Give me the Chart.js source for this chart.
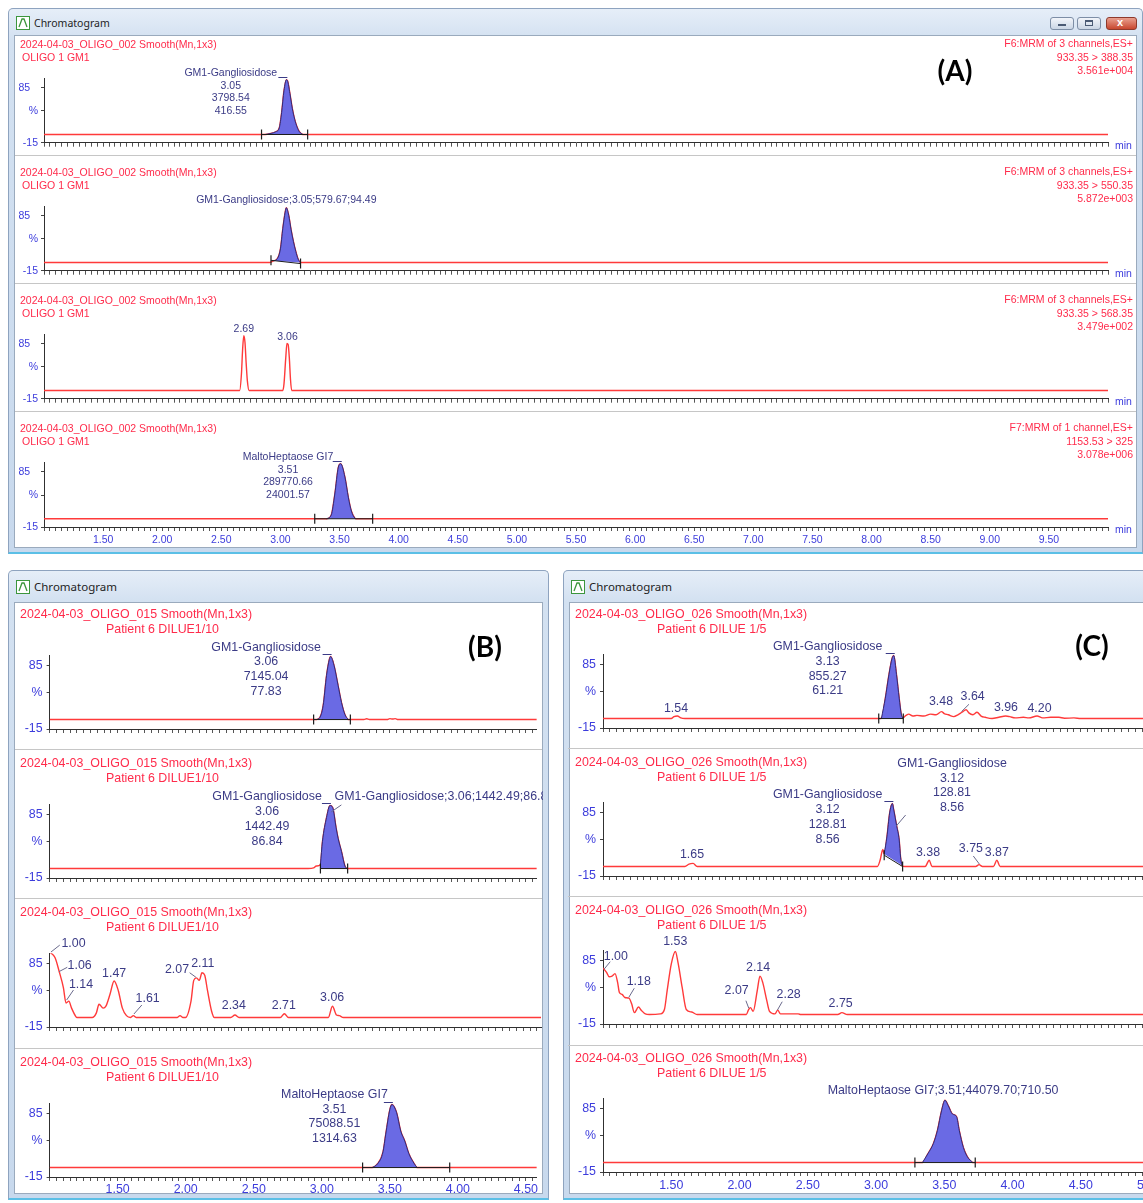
<!DOCTYPE html>
<html>
<head>
<meta charset="utf-8">
<title>Chromatograms</title>
<script src="https://cdn.jsdelivr.net/npm/chart.js@4.4.1/dist/chart.umd.min.js"></script>
<style>
html,body{margin:0;padding:0;background:#fff;overflow:hidden}
body{position:relative;width:1143px;height:1203px;font-family:"Liberation Sans",Arial,sans-serif}
.win{position:absolute;box-sizing:border-box;border:1px solid #8ea3bf;border-bottom:2px solid #5bbfe6;border-radius:5px 5px 0 0;background:linear-gradient(#e6eef8,#d3e1f1 30px,#c8d9ed)}
.cont{position:absolute;box-sizing:border-box;background:#fff;border:1px solid #9aaabd}
.sep{position:absolute;height:0;border-top:1px solid #c6c6c6}
.t{position:absolute;white-space:nowrap;line-height:1;transform:translateY(-50%)}
.r{transform:translate(-100%,-50%)}
.c{transform:translate(-50%,-50%)}
.hd{color:#ff2b4b}
.wt{color:#1e1e1e;font-family:"Noto Sans",sans-serif}
.mn{color:#3c3cdc}
.pl{font-weight:bold;font-family:Lato,sans-serif;color:#000}
.btn{position:absolute;height:11px;border:1px solid #7d8ea6;border-radius:3px;background:linear-gradient(#f2f5fa,#cbd6e5)}
.btn i{position:absolute;box-sizing:border-box}
canvas{position:absolute}
</style>
</head>
<body>
<script>
// ---------- data ----------
// x = retention time (min), y = relative intensity (%)

// panel A : 2024-04-03_OLIGO_002, standard
var aHead = ['2024-04-03_OLIGO_002 Smooth(Mn,1x3)', 'OLIGO 1 GM1']
var aChannels = [
	['F6:MRM of 3 channels,ES+', '933.35 > 388.35', '3.561e+004'],
	['F6:MRM of 3 channels,ES+', '933.35 > 550.35', '5.872e+003'],
	['F6:MRM of 3 channels,ES+', '933.35 > 568.35', '3.479e+002'],
	['F7:MRM of 1 channel,ES+', '1153.53 > 325', '3.078e+006']
]
var aXLabels = [1.5, 2.0, 2.5, 3.0, 3.5, 4.0, 4.5, 5.0, 5.5, 6.0, 6.5, 7.0, 7.5, 8.0, 8.5, 9.0, 9.5]

var a1Trace = [[1.00,0],[2.87,0],[2.92,2],[2.96,5],[2.99,12],[3.01,40],[3.03,80],[3.05,100],[3.06,98],[3.08,75],[3.10,48],[3.12,28],[3.14,14],[3.16,5],[3.19,0],[10.00,0]]
var a1Peak = {fill: [2.87, 3.19], integ: [[2.84,0],[3.23,0]], apex: [3.05,100]}
var a1Notes = [{t: 2.58, v: 112, lines: ['GM1-Gangliosidose', '3.05', '3798.54', '416.55']}]

var a2Trace = [[1.00,0],[2.91,0],[2.94,3],[2.97,6],[3.00,25],[3.02,62],[3.04,92],[3.05,100],[3.07,86],[3.09,60],[3.11,38],[3.13,20],[3.15,6],[3.17,0],[10.00,0]]
var a2Peak = {fill: [2.94, 3.17], integ: [[2.92,4],[3.17,-2]], apex: null, slanted: true}
var a2Notes = [{t: 3.05, v: 114, lines: ['GM1-Gangliosidose;3.05;579.67;94.49']}]

var a3Trace = [[1.00,0],[2.655,0],[2.67,30],[2.68,75],[2.69,100],[2.70,88],[2.71,50],[2.72,18],[2.735,0],[3.02,0],[3.03,12],[3.045,60],[3.055,86],[3.065,84],[3.075,60],[3.085,20],[3.095,0],[10.00,0]]
var a3Notes = [{t: 2.69, v: 112, lines: ['2.69']}, {t: 3.06, v: 98, lines: ['3.06']}]

var a4Trace = [[1.00,0],[3.39,0],[3.43,7],[3.46,45],[3.49,94],[3.51,100],[3.545,76],[3.575,38],[3.60,14],[3.63,1],[3.64,0],[10.00,0]]
var a4Peak = {fill: [3.39, 3.64], integ: [[3.29,0],[3.78,0]], apex: [3.51,100]}
var a4Notes = [{t: 3.064, v: 112, lines: ['MaltoHeptaose GI7', '3.51', '289770.66', '24001.57']}]

// panel B : 2024-04-03_OLIGO_015, patient 6 diluted 1/10
var bHead = ['2024-04-03_OLIGO_015 Smooth(Mn,1x3)', 'Patient 6 DILUE1/10']
var bXLabels = [1.5, 2.0, 2.5, 3.0, 3.5, 4.0, 4.5]

var b1Trace = [[1.00,0],[2.96,0],[2.985,3],[3.01,22],[3.035,70],[3.055,95],[3.065,100],[3.09,86],[3.12,54],[3.145,27],[3.17,8],[3.195,0],[3.31,0],[3.33,1.2],[3.35,0],[3.48,0],[3.50,1.5],[3.52,0.8],[3.54,1.5],[3.56,0],[4.58,0]]
var b1Peak = {fill: [2.96, 3.195], integ: [[2.94,0],[3.21,0]], apex: [3.065,100]}
var b1Notes = [{t: 2.591, v: 115, lines: ['GM1-Gangliosidose', '3.06', '7145.04', '77.83']}]

var b2Trace = [[1.00,0],[2.90,0],[2.94,1],[2.96,4],[2.99,6],[3.005,43],[3.035,81],[3.06,100],[3.08,97],[3.105,65],[3.12,48],[3.145,27],[3.17,4],[3.185,0],[4.58,0]]
var b2Peak = {fill: [2.99, 3.185], integ: [[2.99,0],[3.19,0]], apex: [3.06,100]}
var b2Notes = [
	{t: 2.598, v: 113.6, lines: ['GM1-Gangliosidose', '3.06', '1442.49', '86.84']},
	{t: 3.094, v: 113.6, align: 'left', lines: ['GM1-Gangliosidose;3.06;1442.49;86.84']}
]
var b2Leaders = [[3.07,90,3.144,101]]

var b3Trace = [[1.00,104],[1.04,95],[1.07,73],[1.10,48],[1.12,23],[1.14,26],[1.16,15],[1.19,2],[1.20,0],[1.31,0],[1.34,7],[1.36,21],[1.39,15],[1.41,18],[1.44,37],[1.47,58],[1.50,43],[1.53,15],[1.56,3],[1.59,0],[1.61,3],[1.63,0],[1.93,0],[1.95,3],[1.97,0],[1.99,0],[2.03,26],[2.05,59],[2.07,63],[2.09,59],[2.11,71],[2.13,67],[2.15,43],[2.18,10],[2.20,0],[2.32,0],[2.35,4],[2.38,0],[2.68,0],[2.71,6],[2.74,0],[3.03,0],[3.06,18],[3.09,4],[3.11,3],[3.14,0],[4.58,0]]
var b3Notes = [
	{t: 1.174, v: 118, lines: ['1.00']}, {t: 1.219, v: 81.8, lines: ['1.06']}, {t: 1.229, v: 52.8, lines: ['1.14']},
	{t: 1.47, v: 70.2, lines: ['1.47']}, {t: 1.714, v: 30.5, lines: ['1.61']}, {t: 1.928, v: 76.6, lines: ['2.07']},
	{t: 2.116, v: 85, lines: ['2.11']}, {t: 2.342, v: 18.8, lines: ['2.34']}, {t: 2.706, v: 18.8, lines: ['2.71']},
	{t: 3.058, v: 32.1, lines: ['3.06']}
]
var b3Leaders = [[1.01,104,1.074,115],[1.068,72.8,1.129,79.8],[1.124,27.8,1.174,43.7],[1.614,5.6,1.672,19.9],[2.066,63.9,2.02,71.2]]

var b4Trace = [[1.00,0],[3.37,0],[3.41,6],[3.45,25],[3.47,53],[3.50,92],[3.515,100],[3.55,87],[3.58,58],[3.61,42],[3.64,22],[3.68,6],[3.70,0],[4.58,0]]
var b4Peak = {fill: [3.37, 3.70], integ: [[3.30,0],[3.94,0]], apex: [3.515,100]}
var b4Notes = [{t: 3.093, v: 116.3, lines: ['MaltoHeptaose GI7', '3.51', '75088.51', '1314.63']}]

// panel C : 2024-04-03_OLIGO_026, patient 6 diluted 1/5
var cHead = ['2024-04-03_OLIGO_026 Smooth(Mn,1x3)', 'Patient 6 DILUE 1/5']
var cXLabels = [1.5, 2.0, 2.5, 3.0, 3.5, 4.0, 4.5, 5.0]

var c1Trace = [[1.00,0],[1.50,0],[1.52,3],[1.545,4],[1.57,1],[1.60,0],[3.02,0],[3.04,0.5],[3.068,32],[3.095,70],[3.117,95],[3.13,100],[3.15,70],[3.17,32],[3.185,7],[3.196,1],[3.22,5],[3.24,7],[3.27,4],[3.30,5],[3.35,4],[3.40,7],[3.44,6],[3.48,11],[3.50,8],[3.53,6],[3.57,3],[3.60,6],[3.63,10],[3.66,14],[3.68,9],[3.71,6],[3.74,10],[3.77,4],[3.80,2],[3.85,0],[3.90,2],[3.95,4],[3.98,3],[4.02,1],[4.08,2],[4.12,1],[4.18,4],[4.22,1],[4.28,2],[4.34,2],[4.38,0.5],[4.45,1],[4.50,0],[5.00,0]]
var c1Peak = {fill: [3.04, 3.196], integ: [[3.02,0],[3.20,0]], apex: [3.13,100]}
var c1Notes = [
	{t: 2.646, v: 114.1, lines: ['GM1-Gangliosidose', '3.13', '855.27', '61.21']},
	{t: 1.535, v: 16.3, lines: ['1.54']}, {t: 3.476, v: 26.7, lines: ['3.48']}, {t: 3.708, v: 34.6, lines: ['3.64']},
	{t: 3.952, v: 17.2, lines: ['3.96']}, {t: 4.198, v: 16.3, lines: ['4.20']}
]
var c1Leaders = [[3.626,10.9,3.681,22.6]]

var c2Trace = [[1.00,0],[1.60,0],[1.63,4],[1.66,5],[1.69,0],[3.01,0],[3.03,10],[3.05,27],[3.06,20],[3.08,47],[3.10,85],[3.12,100],[3.13,90],[3.15,66],[3.17,42],[3.18,15],[3.19,2],[3.21,0],[3.36,0],[3.39,10],[3.41,0],[3.73,0],[3.755,3],[3.78,0],[3.86,0],[3.885,10],[3.91,0],[5.00,0]]
var c2Peak = {fill: [3.06, 3.19], integ: [[3.06,18],[3.195,0]], apex: [3.12,100], slanted: true}
var c2Notes = [
	{t: 2.646, v: 113.6, lines: ['GM1-Gangliosidose', '3.12', '128.81', '8.56']},
	{t: 3.557, v: 163.9, lines: ['GM1-Gangliosidose', '3.12', '128.81', '8.56']},
	{t: 1.652, v: 18.3, lines: ['1.65']}, {t: 3.381, v: 22, lines: ['3.38']},
	{t: 3.695, v: 29, lines: ['3.75']}, {t: 3.885, v: 22, lines: ['3.87']}
]
var c2Leaders = [[3.149,64.4,3.217,81.8],[3.757,4,3.713,16.7]]

var c3Trace = [[1.00,74],[1.026,67],[1.045,60],[1.066,61],[1.088,65],[1.107,51],[1.12,35],[1.14,32],[1.16,27],[1.19,26],[1.21,17],[1.23,3],[1.26,12],[1.28,7],[1.31,1],[1.34,0],[1.42,1],[1.45,8],[1.47,38],[1.50,80],[1.53,100],[1.55,82],[1.58,43],[1.61,8],[1.65,4],[1.69,0],[2.05,0],[2.065,7],[2.08,11],[2.10,5],[2.13,38],[2.15,61],[2.17,51],[2.20,22],[2.22,5],[2.26,1],[2.28,7],[2.30,1],[2.43,1],[2.45,0],[2.72,0],[2.75,3],[2.79,0],[5.00,0]]
var c3Notes = [
	{t: 1.094, v: 91.8, lines: ['1.00']}, {t: 1.262, v: 52, lines: ['1.18']}, {t: 1.529, v: 115.6, lines: ['1.53']},
	{t: 1.979, v: 37.4, lines: ['2.07']}, {t: 2.136, v: 75, lines: ['2.14']}, {t: 2.36, v: 31, lines: ['2.28']},
	{t: 2.741, v: 17.9, lines: ['2.75']}
]
var c3Leaders = [[1.007,71.8,1.053,83.9],[1.189,27.3,1.229,41.7],[2.068,9.9,2.047,22],[2.278,7.2,2.313,20.4]]

var c4Trace = [[1.00,0],[3.34,0],[3.38,14],[3.42,30],[3.45,51],[3.48,82],[3.505,99],[3.53,90],[3.56,77],[3.59,73],[3.61,51],[3.64,24],[3.67,9],[3.71,0],[5.00,0]]
var c4Peak = {fill: [3.34, 3.71], integ: [[3.285,0],[3.727,0]], apex: null}
var c4Notes = [{t: 3.491, v: 114.7, lines: ['MaltoHeptaose GI7;3.51;44079.70;710.50']}]

var yTickValues = [-15, 43, 85]
var yTickText = ['-15', '%', '85']

// ---------- drawing ----------
var FONT = '"Liberation Sans", Arial, sans-serif'
var NAVY = '#3b3b86'
var BLUE = '#3c3cdc'

function el(cls, css, text) {
	var d = document.createElement('div')
	d.className = cls
	for (var k in css) d.style[k] = typeof css[k] === 'number' ? css[k] + 'px' : css[k]
	if (text !== undefined) d.textContent = text
	document.body.appendChild(d)
	return d
}
function txt(x, y, s, cls, size) {
	return el('t ' + cls, {left: x, top: y, fontSize: size}, s)
}

function win(x, y, w, h, barH, titleSize) {
	el('win', {left: x, top: y, width: w, height: h})
	el('cont', {left: x + 6, top: y + barH, width: w - 12, height: h - barH - 6})
	var ic = el('t', {left: x + 8, top: y + barH / 2 + 1})
	ic.innerHTML = '<svg width="14" height="14" style="display:block"><rect x="0.5" y="0.5" width="13" height="13" fill="#fff" stroke="#3c963c"/><polyline points="3,11 6,3 8,3 11,11" fill="none" stroke="#3c963c" stroke-width="1.3"/></svg>'
	txt(x + 26, y + barH / 2 + 1, 'Chromatogram', 'wt', titleSize)
}

function xTicks(a, b) {
	var out = []
	for (var i = Math.ceil(a * 20 - 1e-6); i <= Math.floor(b * 20 + 1e-6); i++) out.push({value: i / 20})
	return out
}

function makePlot(g, s) {
	var cv = document.createElement('canvas')
	cv.width = g.cw
	cv.height = g.ch
	cv.style.left = g.cx + 'px'
	cv.style.top = g.cy + 'px'
	document.body.appendChild(cv)

	var pts = s.trace.map(function(p) { return {x: p[0], y: p[1]} })
	var sets = []
	if (s.peak) {
		// integration baseline with its end markers
		sets.push({
			data: s.peak.integ.map(function(p) { return {x: p[0], y: p[1]} }),
			borderColor: '#1c1c1c', borderWidth: 1, fill: false,
			pointStyle: 'line', pointRotation: 90, pointRadius: 5,
			pointBorderColor: '#1c1c1c', pointBorderWidth: 1.2
		})
		var f = s.peak.fill
		sets.push({
			data: pts.filter(function(p) { return p.x >= f[0] - 1e-6 && p.x <= f[1] + 1e-6 }),
			borderColor: '#2c2c78', borderWidth: 1, backgroundColor: '#6a6ae4',
			fill: s.peak.slanted ? 'shape' : {value: 0}, pointRadius: 0, cubicInterpolationMode: 'monotone'
		})
	}
	sets.push({
		data: pts, borderColor: '#ff3a3a', borderWidth: 1.4, pointRadius: 0,
		fill: false, cubicInterpolationMode: 'monotone'
	})

	var labelled = s.xLabels.map(function(v) { return Math.round(v * 100) })
	var notes = {
		id: 'notes',
		afterDatasetsDraw: function(chart) {
			var xs = chart.scales.x, ys = chart.scales.y, ctx = chart.ctx
			var px = function(t) { return xs.getPixelForValue(t) }
			var py = function(v) { return ys.getPixelForValue(v) }
			ctx.save()
			ctx.fillStyle = NAVY
			ctx.font = g.fs + 'px ' + FONT
			ctx.textBaseline = 'middle'
			;(s.notes || []).forEach(function(n) {
				ctx.textAlign = n.align || 'center'
				n.lines.forEach(function(line, i) { ctx.fillText(line, px(n.t), py(n.v) + i * g.lh) })
			})
			ctx.lineWidth = 1
			ctx.strokeStyle = '#6a6a8c'
			;(s.leaders || []).forEach(function(l) {
				ctx.beginPath()
				ctx.moveTo(px(l[0]), py(l[1]))
				ctx.lineTo(px(l[2]), py(l[3]))
				ctx.stroke()
			})
			if (s.peak && s.peak.apex) {
				var x = px(s.peak.apex[0]), y = Math.round(py(s.peak.apex[1]) - 3) + 0.5
				ctx.strokeStyle = NAVY
				ctx.beginPath()
				ctx.moveTo(x - 8, y)
				ctx.lineTo(x + 1, y)
				ctx.stroke()
			}
			ctx.restore()
		}
	}

	new Chart(cv, {
		type: 'line',
		data: {datasets: sets},
		options: {
			responsive: false, animation: false, devicePixelRatio: 1,
			layout: {padding: {left: 0, top: g.top - g.cy, right: g.cx + g.cw - g.right, bottom: 0}},
			plugins: {legend: {display: false}, tooltip: {enabled: false}},
			scales: {
				x: {
					type: 'linear', min: g.tMin, max: g.tMax,
					afterBuildTicks: function(sc) { sc.ticks = xTicks(g.tMin, g.tMax) },
					afterFit: function(sc) { sc.height = g.cy + g.ch - g.bottom },
					grid: {drawOnChartArea: false, tickLength: 4, tickColor: '#555'},
					border: {color: '#303030', width: 1},
					ticks: {
						autoSkip: false, maxRotation: 0, padding: g.xpad, color: BLUE,
						font: {family: FONT, size: g.fs},
						callback: function(v) { return labelled.indexOf(Math.round(v * 100)) >= 0 ? v.toFixed(2) : '' }
					}
				},
				y: {
					min: -15, max: 102,
					afterBuildTicks: function(sc) { sc.ticks = yTickValues.map(function(v) { return {value: v} }) },
					afterFit: function(sc) { sc.width = g.left - g.cx },
					grid: {drawOnChartArea: false, tickLength: 3, tickColor: '#444'},
					border: {color: '#303030', width: 1},
					ticks: {
						padding: g.ypad, color: BLUE, font: {family: FONT, size: g.fs},
						callback: function(v, i) { return yTickText[i] + (i === 2 ? g.pad85 : '') }
					}
				}
			}
		},
		plugins: [notes]
	})
}

// geometry of the three screenshot windows
function geomA(H, last) {
	var bot = H + 99
	return {cx: 14, cw: 1123, cy: H - 12, ch: (last ? 547 : H + 108) - (H - 12), left: 44, right: 1108,
		top: bot - 117 * 0.55, bottom: bot, tMin: 1, tMax: 10, fs: 10.5, lh: 12.6, xpad: 3, ypad: 3, pad85: '\u2007\u2009'}
}
function geomB(H, last) {
	var bot = H + 115
	return {cx: 15, cw: 528, cy: H - 14, ch: (last ? 1198 : H + 135) - (H - 14), left: 49.6, right: 541.1,
		top: bot - 117 * 0.63, bottom: bot, tMin: 1, tMax: 4.58, fs: 12.4, lh: 14.8, xpad: 1, ypad: 4, pad85: ''}
}
function geomC(H, last) {
	var bot = H + 114
	return {cx: 568, cw: 600, cy: H - 14, ch: (last ? 1198 : H + 134) - (H - 14), left: 603, right: 1149,
		top: bot - 117 * 0.63, bottom: bot, tMin: 1, tMax: 5, fs: 12.4, lh: 14.8, xpad: 2, ypad: 4, pad85: ''}
}

// windows
win(8, 8, 1135, 546, 27, 10.5)
win(8, 570, 541, 630, 32, 11.5)
win(563, 570, 600, 630, 32, 11.5)
var bMin = el('btn', {left: 1050, top: 17, width: 22})
bMin.innerHTML = '<i style="left:7px;top:6px;width:8px;height:2px;background:#4a5a74"></i>'
var bMax = el('btn', {left: 1077, top: 17, width: 22})
bMax.innerHTML = '<i style="left:7px;top:2px;width:8px;height:6px;border:1px solid #4a5a74;border-top-width:2px"></i>'
var bClose = el('btn', {left: 1106, top: 17, width: 29, background: 'linear-gradient(#e9a08f,#c8472f)', borderColor: '#8e3a2c'})
bClose.innerHTML = '<span style="position:absolute;left:10px;top:-2px;font:bold 11px Arial;color:#fff">x</span>'

var aTops = [44, 172, 300, 428]
var bTops = [614, 763, 912, 1062]
var cTops = [614, 762, 910, 1058]
;[155, 283, 411].forEach(function(y) { el('sep', {left: 15, top: y, width: 1121}) })
;[749, 898, 1048].forEach(function(y) { el('sep', {left: 15, top: y, width: 527}) })
;[748, 896, 1045].forEach(function(y) { el('sep', {left: 568, top: y, width: 580}) })

makePlot(geomA(aTops[0]), {trace: a1Trace, peak: a1Peak, notes: a1Notes, xLabels: []})
makePlot(geomA(aTops[1]), {trace: a2Trace, peak: a2Peak, notes: a2Notes, xLabels: []})
makePlot(geomA(aTops[2]), {trace: a3Trace, notes: a3Notes, xLabels: []})
makePlot(geomA(aTops[3], true), {trace: a4Trace, peak: a4Peak, notes: a4Notes, xLabels: aXLabels})

makePlot(geomB(bTops[0]), {trace: b1Trace, peak: b1Peak, notes: b1Notes, xLabels: []})
makePlot(geomB(bTops[1]), {trace: b2Trace, peak: b2Peak, notes: b2Notes, leaders: b2Leaders, xLabels: []})
makePlot(geomB(bTops[2]), {trace: b3Trace, notes: b3Notes, leaders: b3Leaders, xLabels: []})
makePlot(geomB(bTops[3], true), {trace: b4Trace, peak: b4Peak, notes: b4Notes, xLabels: bXLabels})

makePlot(geomC(cTops[0]), {trace: c1Trace, peak: c1Peak, notes: c1Notes, leaders: c1Leaders, xLabels: []})
makePlot(geomC(cTops[1]), {trace: c2Trace, peak: c2Peak, notes: c2Notes, leaders: c2Leaders, xLabels: []})
makePlot(geomC(cTops[2]), {trace: c3Trace, notes: c3Notes, leaders: c3Leaders, xLabels: []})
makePlot(geomC(cTops[3], true), {trace: c4Trace, peak: c4Peak, notes: c4Notes, xLabels: cXLabels})

// header texts
aTops.forEach(function(H, i) {
	txt(20, H, aHead[0], 'hd', 10.5)
	txt(22, H + 13, aHead[1], 'hd', 10.5)
	aChannels[i].forEach(function(s, j) { txt(1133, H - 1 + j * 13.5, s, 'hd r', 10.5) })
	txt(1115, H + 101, 'min', 'mn', 10.5)
})
bTops.forEach(function(H) {
	txt(20, H, bHead[0], 'hd', 12.4)
	txt(106, H + 15, bHead[1], 'hd', 12.4)
})
cTops.forEach(function(H) {
	txt(575, H, cHead[0], 'hd', 12.4)
	txt(657, H + 15, cHead[1], 'hd', 12.4)
})
txt(955, 70, '(A)', 'pl c', 28)
txt(485, 646, '(B)', 'pl c', 28)
txt(1092, 645, '(C)', 'pl c', 28)
</script>
</body>
</html>
